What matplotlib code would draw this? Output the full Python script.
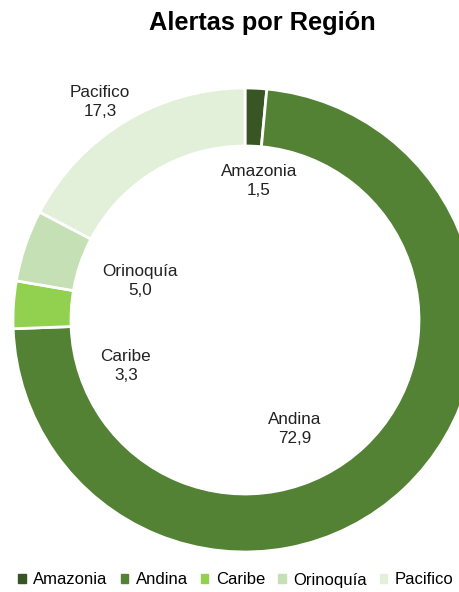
import matplotlib.pyplot as plt

plt.rcParams['font.family'] = ['Liberation Sans', 'DejaVu Sans']

regions = ["Amazonia", "Andina", "Caribe", "Orinoquía", "Pacifico"]
values = [1.5, 72.9, 3.3, 5.0, 17.3]
colors = ["#375623", "#548235", "#92D050", "#C5E0B4", "#E2F0D9"]

# label placement (data coords, pie radius = 1)
label_pos = [(0.06, 0.60), (0.216, -0.47), (-0.513, -0.198), (-0.453, 0.168), (-0.625, 0.94)]

fig = plt.figure(figsize=(4.59, 5.92), dpi=100)
ax = fig.add_axes([13 / 459, 40 / 592, 464 / 459, 464 / 592])

wedges, _ = ax.pie(values, colors=colors, startangle=90, counterclock=False,
                   radius=1, wedgeprops=dict(width=0.25, edgecolor="white", linewidth=2))
ax.set_xlim(-1, 1)
ax.set_ylim(-1, 1)
ax.set_aspect("equal")
ax.axis("off")

for name, v, (x, y) in zip(regions, values, label_pos):
    ax.text(x, y, f"{name}\n{v:.1f}".replace(".", ","), ha="center", va="center",
            fontsize=12.3, color="#222222", linespacing=1.3)

fig.text(262 / 459, 1 - 23 / 592, "Alertas por Región", ha="center", va="center",
         fontsize=18.3, fontweight="bold")

handles = [plt.Rectangle((0, 0), 1, 1, color=c) for c in colors]
fig.legend(handles, regions, loc="center", bbox_to_anchor=(236 / 459, 1 - 580 / 592),
           ncol=5, frameon=False, fontsize=12, handlelength=0.45, handleheight=0.45,
           handletextpad=0.45, columnspacing=0.78, borderaxespad=0)

fig.savefig("out.png", dpi=100)
